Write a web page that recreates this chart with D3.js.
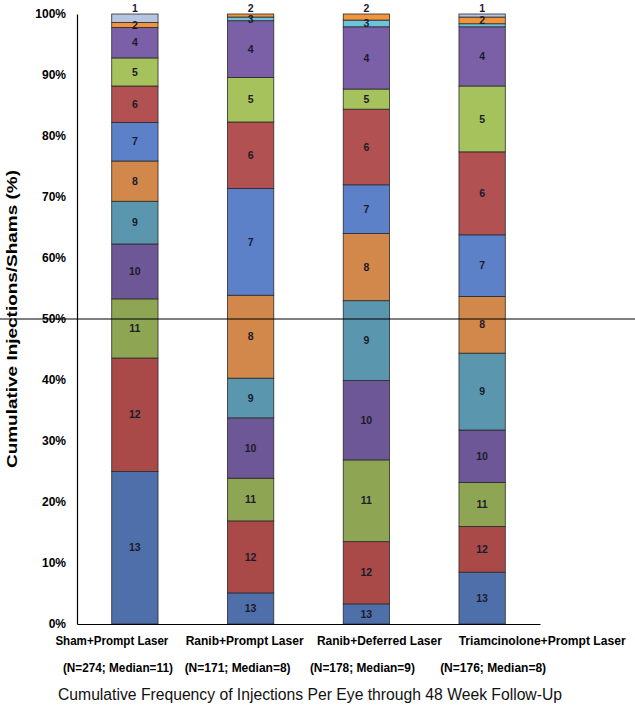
<!DOCTYPE html>
<html>
<head>
<meta charset="utf-8">
<script src="https://cdn.jsdelivr.net/npm/d3@7"></script>
<style>
  body { margin: 0; background: #fff; }
  svg { display: block; font-family: "Liberation Sans", Arial, sans-serif; }
</style>
</head>
<body>
<svg class="injections" width="635" height="712"></svg>
<script>
// groups along the x axis
var groups = ["Sham+Prompt Laser", "Ranib+Prompt Laser", "Ranib+Deferred Laser", "Triamcinolone+Prompt Laser"];
var groupN = [274, 171, 178, 176];
var groupMedian = [11, 8, 9, 8];

// number of injections, stacked bottom to top
var injectionCounts = [13, 12, 11, 10, 9, 8, 7, 6, 5, 4, 3, 2, 1];

// percent of eyes for each count (same order as injectionCounts)
var shamPrompt     = [25.0, 18.6,  9.7,  9.0,  7.0,  6.6,  6.3,  6.0,  4.6,  5.0, 0.0, 0.8, 1.4];
var ranibPrompt    = [ 5.1, 11.8,  7.0,  9.9,  6.5, 13.6, 17.5, 10.9,  7.3,  9.3, 0.6, 0.5, 0.0];
var ranibDeferred  = [ 3.3, 10.2, 13.4, 13.0, 13.1, 11.0,  8.0, 12.4,  3.3, 10.2, 1.1, 1.0, 0.0];
var triamPrompt    = [ 8.5,  7.5,  7.2,  8.6, 12.6,  9.3, 10.1, 13.6, 10.8,  9.7, 0.5, 1.1, 0.5];

var yTicks = [0, 10, 20, 30, 40, 50, 60, 70, 80, 90, 100];

// colours per injection count
var segmentColors = ["#4e6fa9", "#a94a49", "#8ea553", "#6d5796", "#5a97ae", "#d1884a",
                     "#5c81c8", "#b25151", "#a6c25d", "#7b60a7", "#6bc3dc", "#f0953e", "#b6c6e2"];

// per-group nudges for the two label rows under the axis
var row1Shift = [-23, -6, 13, 60];
var row2Shift = [-17, -13, -4, 11];
var row1Width = [113, 118, 125, 167];
var row2Width = [110, 106, 105, 106];

var series = [shamPrompt, ranibPrompt, ranibDeferred, triamPrompt];
var table = groups.map(function (g, i) {
  var row = { group: g };
  injectionCounts.forEach(function (c, j) { row[c] = series[i][j]; });
  return row;
});

var svg = d3.select("svg.injections");

var x = d3.scaleBand()
    .domain(groups)
    .range([77, 540])
    .paddingInner(0.6)
    .paddingOuter(0.3);

var y = d3.scaleLinear()
    .domain([0, 100])
    .range([624, 14]);

var color = d3.scaleOrdinal()
    .domain(injectionCounts)
    .range(segmentColors);

var stacked = d3.stack().keys(injectionCounts)(table);

// bars
var layer = svg.selectAll(".layer")
  .data(stacked)
  .enter().append("g")
    .attr("class", "layer")
    .attr("fill", function (d) { return color(d.key); });

layer.selectAll("rect")
  .data(function (d) { return d.filter(function (s) { return s[1] - s[0] > 0; }); })
  .enter().append("rect")
    .attr("x", function (d) { return x(d.data.group); })
    .attr("width", x.bandwidth())
    .attr("y", function (d) { return y(d[1]); })
    .attr("height", function (d) { return y(d[0]) - y(d[1]); })
    .attr("stroke", "#2a2a2a")
    .attr("stroke-width", 0.8);

// segment labels, top down; tiny top segments get their label above the bar,
// labels that would sit on top of the previous one are pushed down or dropped
var labels = [];
groups.forEach(function (g, gi) {
  var lastY = -100;
  for (var k = stacked.length - 1; k >= 0; k--) {
    var s = stacked[k][gi];
    var h = s[1] - s[0];
    if (h <= 0) continue;
    var ly = (s[1] >= 99.95 && h < 3) ? y(100) - 6 : (y(s[0]) + y(s[1])) / 2;
    if (ly - lastY < 8) continue;
    if (ly - lastY < 11) ly = lastY + 11;
    lastY = ly;
    labels.push({ group: g, key: stacked[k].key, y: ly });
  }
});

svg.selectAll(".seg-label")
  .data(labels)
  .enter().append("text")
    .attr("class", "seg-label")
    .attr("x", function (d) { return x(d.group) + x.bandwidth() / 2; })
    .attr("y", function (d) { return d.y; })
    .attr("dy", "0.35em")
    .attr("text-anchor", "middle")
    .style("font-size", "10.5px")
    .style("font-weight", "bold")
    .style("fill", "#1b1b2b")
    .text(function (d) { return d.key; });

// axes
var yAxis = svg.append("g")
    .attr("transform", "translate(77,0)")
    .call(d3.axisLeft(y).tickValues(yTicks).tickSize(0).tickPadding(11)
      .tickFormat(function (d) { return d + "%"; }));
yAxis.select(".domain").attr("stroke", "#000").attr("stroke-width", 1.2);
yAxis.selectAll("text")
    .style("font-size", "12px")
    .style("font-weight", "bold")
    .style("font-family", "'Liberation Sans', Arial, sans-serif")
    .attr("fill", "#000");

var xAxis = svg.append("g")
    .attr("transform", "translate(0," + y(0) + ")")
    .call(d3.axisBottom(x).tickSize(0).tickFormat(""));
xAxis.select(".domain").attr("stroke", "#000").attr("stroke-width", 1.2);

// 50% reference line across the whole figure
svg.append("line")
    .attr("x1", 0)
    .attr("x2", 635)
    .attr("y1", y(50))
    .attr("y2", y(50))
    .attr("stroke", "#000")
    .attr("stroke-width", 1.1);

// group labels
svg.selectAll(".group-label")
  .data(groups)
  .enter().append("text")
    .attr("class", "group-label")
    .attr("x", function (d, i) { return x(d) + x.bandwidth() / 2 + row1Shift[i]; })
    .attr("y", 645)
    .attr("text-anchor", "middle")
    .attr("textLength", function (d, i) { return row1Width[i]; })
    .attr("lengthAdjust", "spacingAndGlyphs")
    .style("font-size", "12px")
    .style("font-weight", "bold")
    .text(function (d) { return d; });

svg.selectAll(".group-n")
  .data(groups)
  .enter().append("text")
    .attr("class", "group-n")
    .attr("x", function (d, i) { return x(d) + x.bandwidth() / 2 + row2Shift[i]; })
    .attr("y", 672)
    .attr("text-anchor", "middle")
    .attr("textLength", function (d, i) { return row2Width[i]; })
    .attr("lengthAdjust", "spacingAndGlyphs")
    .style("font-size", "12px")
    .style("font-weight", "bold")
    .text(function (d, i) { return "(N=" + groupN[i] + "; Median=" + groupMedian[i] + ")"; });

svg.append("text")
    .attr("x", 310)
    .attr("y", 700)
    .attr("text-anchor", "middle")
    .attr("textLength", 504)
    .attr("lengthAdjust", "spacingAndGlyphs")
    .style("font-size", "16px")
    .style("fill", "#111")
    .text("Cumulative Frequency of Injections Per Eye through 48 Week Follow-Up");

svg.append("text")
    .attr("transform", "translate(17,319) rotate(-90)")
    .attr("text-anchor", "middle")
    .attr("textLength", 298)
    .attr("lengthAdjust", "spacingAndGlyphs")
    .style("font-size", "14px")
    .style("font-weight", "bold")
    .text("Cumulative Injections/Shams (%)");
</script>
</body>
</html>
